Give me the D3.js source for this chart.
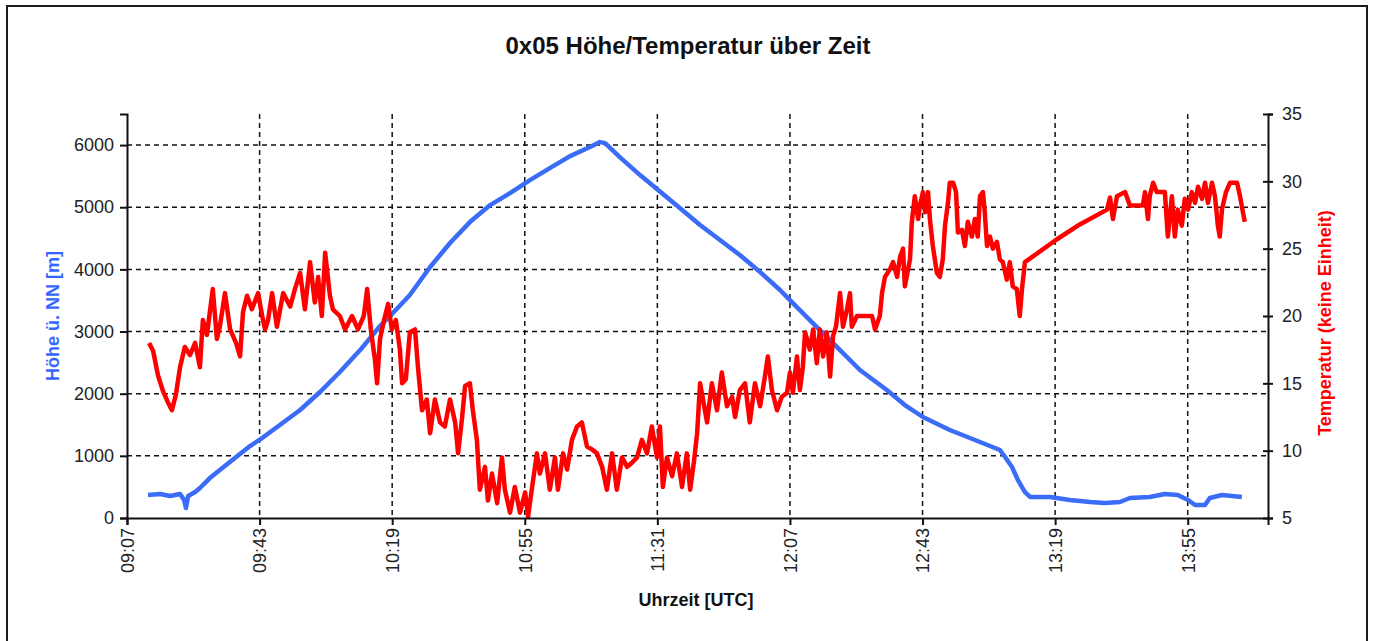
<!DOCTYPE html>
<html>
<head>
<meta charset="utf-8">
<script src="https://cdn.jsdelivr.net/npm/d3@7"></script>
<style>
  body { margin: 0; background: #fff; }
  text { font-family: "Liberation Sans", Arial, sans-serif; }
</style>
</head>
<body>
<div id="chart"></div>
<script>
// start of the recording, all offsets in minutes from here
var startTime = "09:07";
var endOffset = 309.8;
var tickLabels = ["09:07","09:43","10:19","10:55","11:31","12:07","12:43","13:19","13:55"];
var hoeheTicks = [0, 1000, 2000, 3000, 4000, 5000, 6000];
var tempTicks = [5, 10, 15, 20, 25, 30, 35];

// Höhe ü. NN [m]
var hoeheMin = [5.7, 9.0, 11.7, 14.4, 15.5, 16.0, 16.6, 18.5, 19.8, 22.5, 25.2, 29.3, 33.4, 36.7, 41.5, 47.0,
  52.4, 57.8, 63.3, 68.7, 72.2, 76.8, 82.3, 87.7, 93.1, 98.6, 104.0, 109.4, 114.8, 120.3, 125.7, 128.4,
  129.8, 133.8, 139.3, 144.2, 150.1, 155.6, 161.0, 166.4, 171.9, 177.3, 180.8, 185.4, 191.7, 199.0, 206.3,
  211.2, 216.1, 223.4, 231.6, 237.0, 238.4, 240.3, 241.9, 243.8, 245.2, 250.6, 256.0, 261.5, 265.5, 269.6,
  272.3, 277.7, 281.8, 285.3, 288.1, 290.0, 292.7, 294.0, 297.3, 302.7];
var hoeheVal = [370, 386, 354, 386, 290, 160, 354, 418, 483, 643, 772, 965, 1158, 1287, 1496, 1737,
  2027, 2349, 2702, 3089, 3298, 3587, 4038, 4424, 4761, 5035, 5228, 5437, 5630, 5823, 5968, 6048,
  6032, 5807, 5517, 5276, 4987, 4713, 4472, 4231, 3957, 3668, 3458, 3185, 2815, 2381, 2059,
  1818, 1625, 1416, 1223, 1094, 981, 820, 611, 418, 338, 338, 290, 257, 241, 257,
  322, 338, 386, 370, 290, 209, 209, 322, 370, 338];

// Temperatur (keine Einheit)
var tempMin = [6.0, 7.1, 8.4, 9.8, 11.1, 12.2, 13.3, 14.4, 15.7, 17.1, 18.5, 19.8, 20.6, 21.7, 23.3, 24.4,
  25.2, 26.6, 28.0, 29.6, 30.7, 31.5, 32.6, 33.9, 35.6, 36.7, 37.5, 38.3, 39.4, 40.7, 42.4, 44.3,
  45.6, 47.0, 48.3, 49.7, 51.0, 51.9, 52.9, 53.8, 55.1, 55.9, 57.8, 59.2, 61.1, 62.7, 64.3, 65.2,
  66.2, 67.3, 67.9, 68.7, 69.8, 70.9, 71.9, 73.0, 74.1, 74.7, 75.7, 76.8, 78.2, 79.0, 80.1, 81.4,
  82.3, 83.6, 85.0, 86.3, 87.7, 89.1, 89.9, 91.0, 91.8, 93.1, 93.9, 95.0, 95.8, 97.2, 98.0, 99.1,
  100.5, 101.8, 102.6, 104.0, 105.3, 106.7, 108.1, 108.9, 110.0, 111.3, 112.1, 113.5, 114.8, 116.2, 117.0, 118.4,
  119.5, 120.8, 122.2, 123.5, 124.9, 126.2, 127.6, 129.0, 130.3, 131.7, 133.0, 134.4, 135.8, 137.1, 138.5, 139.8,
  141.2, 142.5, 143.9, 144.7, 145.5, 146.6, 148.0, 149.3, 150.7, 152.0, 152.9, 153.9, 154.8, 155.6, 156.4, 157.5,
  158.8, 160.2, 161.5, 162.9, 164.3, 165.1, 166.4, 167.8, 169.1, 170.5, 171.9, 173.2, 174.0, 175.1, 176.5, 177.8,
  179.2, 180.0, 180.8, 181.9, 182.7, 183.5, 184.1, 185.4, 186.3, 187.3, 188.1, 189.0, 190.0, 190.9, 191.7, 192.5,
  193.6, 194.4, 195.5, 196.3, 196.8, 198.2, 202.3, 203.1, 204.4, 205.0, 205.8, 207.2, 208.0, 209.1, 209.9, 210.7,
  211.2, 212.6, 213.1, 213.9, 214.8, 215.3, 216.1, 216.7, 217.5, 218.0, 218.8, 219.9, 220.7, 221.5, 222.1, 222.9,
  223.4, 224.3, 225.1, 225.6, 226.7, 227.5, 228.3, 229.4, 230.2, 231.0, 231.6, 232.4, 232.9, 233.5, 234.3, 235.1,
  236.2, 237.0, 237.8, 238.9, 239.7, 240.5, 241.6, 242.4, 243.0, 243.8, 252.5, 258.7, 266.1, 266.9, 267.7, 268.8,
  271.0, 272.3, 275.8, 276.4, 277.2, 277.7, 278.6, 279.6, 281.8, 282.6, 283.7, 284.5, 285.3, 286.4, 287.2, 288.1,
  289.1, 290.0, 290.8, 291.9, 292.7, 293.5, 294.6, 295.4, 296.2, 296.7, 297.3, 298.4, 299.5, 301.4, 302.2, 303.0,
  303.5];
var tempVal = [18.0, 17.4, 15.6, 14.4, 13.6, 13.0, 14.2, 16.2, 17.7, 17.1, 18.0, 16.2, 19.7, 18.6, 22.0, 18.3,
  19.2, 21.7, 19.0, 18.0, 17.0, 20.3, 21.5, 20.5, 21.7, 20.0, 19.0, 19.7, 21.7, 19.2, 21.7, 20.7,
  22.0, 23.2, 20.5, 24.0, 21.0, 22.9, 20.0, 24.7, 21.5, 20.5, 20.0, 19.0, 20.0, 19.0, 20.0, 22.0,
  19.0, 16.8, 15.0, 18.3, 19.7, 20.9, 19.0, 19.7, 17.5, 15.0, 15.3, 18.8, 19.0, 16.2, 13.0, 13.8,
  11.3, 13.8, 12.1, 11.8, 13.8, 12.1, 9.8, 12.5, 14.8, 15.0, 13.0, 10.8, 7.1, 8.8, 6.3, 8.3,
  6.1, 9.5, 7.1, 5.4, 7.3, 5.4, 6.9, 5.1, 7.3, 9.8, 8.3, 9.8, 7.1, 9.5, 7.1, 9.8,
  8.6, 10.8, 11.8, 12.1, 10.3, 10.1, 9.8, 8.8, 7.1, 9.8, 7.1, 9.5, 8.8, 9.1, 9.5, 10.8,
  9.8, 11.8, 9.5, 11.8, 7.3, 9.5, 8.1, 9.8, 7.3, 9.8, 7.1, 9.1, 11.3, 15.0, 13.8, 12.1,
  15.0, 13.0, 15.8, 13.3, 14.0, 12.5, 14.5, 15.0, 12.1, 15.0, 13.3, 15.5, 17.0, 14.5, 13.0, 14.0,
  14.3, 15.8, 14.3, 17.0, 14.5, 16.2, 18.8, 17.5, 19.0, 16.5, 19.0, 17.0, 18.8, 15.5, 18.5, 19.2,
  21.7, 19.2, 20.5, 21.7, 19.2, 20.0, 20.0, 19.0, 20.0, 21.7, 22.9, 23.5, 24.0, 22.9, 24.4, 25.0,
  22.2, 24.2, 27.0, 28.9, 27.2, 28.2, 29.2, 27.7, 29.2, 27.2, 25.2, 23.2, 22.9, 24.2, 26.7, 28.4,
  29.9, 29.9, 29.2, 26.2, 26.4, 25.2, 27.0, 25.9, 27.2, 25.9, 28.9, 29.2, 27.7, 25.2, 25.9, 25.0,
  25.5, 24.2, 24.0, 22.7, 24.0, 22.2, 22.0, 20.0, 22.0, 24.0, 25.7, 26.8, 27.9, 28.8, 27.2, 28.9,
  29.2, 28.2, 28.2, 29.2, 27.2, 28.9, 29.9, 29.2, 29.2, 25.9, 28.9, 25.9, 27.9, 26.7, 28.7, 27.9,
  29.2, 28.4, 29.6, 28.7, 29.9, 28.4, 29.9, 28.9, 26.7, 25.9, 27.9, 29.2, 29.9, 29.9, 28.9, 27.7,
  27.0];

var W = 1373, H = 641;
var margin = {top: 114, right: 105, bottom: 123, left: 127};
var width = W - margin.left - margin.right,
    height = H - margin.top - margin.bottom;

var base = d3.utcParse("%H:%M")(startTime);
function toDate(m){ return new Date(base.getTime() + m * 60000); }

var x = d3.scaleUtc().domain([base, toDate(endOffset)]).range([0, width]);
var yH = d3.scaleLinear().domain([0, 6500]).range([height, 0]);
var yT = d3.scaleLinear().domain([5, 35]).range([height, 0]);

var tickDates = tickLabels.map(function(t){ return d3.utcParse("%H:%M")(t); });

var svg = d3.select("#chart").append("svg")
    .attr("width", W).attr("height", H);

// outer frame
svg.append("rect")
    .attr("x", 7).attr("y", 6).attr("width", 1360).attr("height", 700)
    .attr("fill", "none").attr("stroke", "#1a1a1a").attr("stroke-width", 2);

svg.append("text")
    .attr("x", 688).attr("y", 54)
    .attr("text-anchor", "middle")
    .style("font-size", "24px").style("font-weight", "bold").style("fill", "#111")
    .text("0x05 Höhe/Temperatur über Zeit");

var g = svg.append("g")
    .attr("transform", "translate(" + margin.left + "," + margin.top + ")");

// grid
g.selectAll(".hgrid").data(hoeheTicks.slice(1)).enter().append("line")
    .attr("x1", 0).attr("x2", width)
    .attr("y1", function(d){ return yH(d); }).attr("y2", function(d){ return yH(d); })
    .attr("stroke", "#111").attr("stroke-width", 1.5).attr("stroke-dasharray", "5,4");
g.selectAll(".vgrid").data(tickDates.slice(1)).enter().append("line")
    .attr("y1", 0).attr("y2", height)
    .attr("x1", function(d){ return x(d); }).attr("x2", function(d){ return x(d); })
    .attr("stroke", "#111").attr("stroke-width", 1.5).attr("stroke-dasharray", "5,4");

// data lines
var hoeheData = hoeheMin.map(function(m, i){ return {t: toDate(m), v: hoeheVal[i]}; });
var tempData = tempMin.map(function(m, i){ return {t: toDate(m), v: tempVal[i]}; });

var lineH = d3.line().x(function(d){ return x(d.t); }).y(function(d){ return yH(d.v); });
var lineT = d3.line().x(function(d){ return x(d.t); }).y(function(d){ return yT(d.v); });

g.append("path").datum(hoeheData)
    .attr("fill", "none").attr("stroke", "#3a6cf7").attr("stroke-width", 4.5)
    .attr("stroke-linejoin", "round").attr("d", lineH);
g.append("path").datum(tempData)
    .attr("fill", "none").attr("stroke", "#ff0000").attr("stroke-width", 4.5)
    .attr("stroke-linejoin", "round").attr("d", lineT);

// axes
var xAxis = g.append("g").attr("transform", "translate(0," + height + ")")
    .call(d3.axisBottom(x).tickValues(tickDates).tickFormat(d3.utcFormat("%H:%M")).tickSize(7));
xAxis.selectAll("text")
    .style("font-size", "18px").style("fill", "#222")
    .attr("text-anchor", "end")
    .attr("transform", "rotate(-90)")
    .attr("x", -10).attr("y", 0).attr("dy", "0.35em");

var yAxisL = g.append("g")
    .call(d3.axisLeft(yH).tickValues(hoeheTicks).tickFormat(d3.format("d")).tickSize(7).tickPadding(6));
yAxisL.selectAll("text").style("font-size", "18px").style("fill", "#222");

var yAxisR = g.append("g").attr("transform", "translate(" + width + ",0)")
    .call(d3.axisRight(yT).tickValues(tempTicks).tickSize(5).tickPadding(9));
yAxisR.selectAll("text").style("font-size", "18px").style("fill", "#222");
yAxisR.selectAll(".tick line").attr("x1", -5);

g.selectAll(".domain").attr("stroke", "#111").attr("stroke-width", 2);
g.selectAll(".tick line").attr("stroke", "#111").attr("stroke-width", 2);
[xAxis, yAxisL, yAxisR].forEach(function(a){ a.attr("font-family", null); });

// axis titles
svg.append("text")
    .attr("transform", "translate(59,316) rotate(-90)")
    .attr("text-anchor", "middle")
    .style("font-size", "18px").style("font-weight", "bold").style("fill", "#3366ff")
    .text("Höhe ü. NN [m]");
svg.append("text")
    .attr("transform", "translate(1331,323) rotate(-90)")
    .attr("text-anchor", "middle")
    .style("font-size", "18px").style("font-weight", "bold").style("fill", "#ff0000")
    .text("Temperatur (keine Einheit)");
svg.append("text")
    .attr("x", 696).attr("y", 606)
    .attr("text-anchor", "middle")
    .style("font-size", "18px").style("font-weight", "bold").style("fill", "#111")
    .text("Uhrzeit [UTC]");
</script>
</body>
</html>
